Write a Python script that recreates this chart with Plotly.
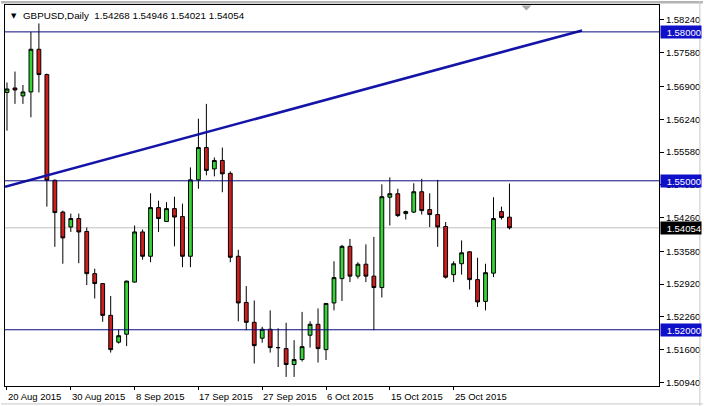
import plotly.graph_objects as go

# ---------------- data ----------------
symbol_title = "GBPUSD,Daily  1.54268 1.54946 1.54021 1.54054"

opens = [1.5678, 1.5687, 1.5671, 1.5679, 1.5765, 1.5714, 1.5501, 1.5437, 1.5407, 1.5424,
         1.5398, 1.5313, 1.5293, 1.5229, 1.5175, 1.5191, 1.5296, 1.5397, 1.5348, 1.5446,
         1.5418, 1.5444, 1.5428, 1.5348, 1.5502, 1.5567, 1.5524, 1.5541, 1.5515, 1.5348,
         1.5255, 1.5215, 1.5183, 1.5201, 1.5164, 1.5162, 1.5130, 1.5140, 1.5189, 1.5211,
         1.5160, 1.5254, 1.5303, 1.5368, 1.5308, 1.5332, 1.5308, 1.5285, 1.5467, 1.5474,
         1.5434, 1.5437, 1.5478, 1.5442, 1.5432, 1.5408, 1.5311, 1.5333, 1.5357, 1.5301,
         1.5257, 1.5314, 1.5438, 1.54268]
highs = [1.5698, 1.5720, 1.5693, 1.5800, 1.5817, 1.5716, 1.5503, 1.5440, 1.5434, 1.5434,
         1.5406, 1.5323, 1.5294, 1.5268, 1.5201, 1.5299, 1.5410, 1.5402, 1.5475, 1.5460,
         1.5457, 1.5468, 1.5454, 1.5527, 1.5625, 1.5655, 1.5547, 1.5567, 1.5519, 1.5361,
         1.5288, 1.5259, 1.5206, 1.5239, 1.5203, 1.5214, 1.5179, 1.5236, 1.5217, 1.5243,
         1.5254, 1.5338, 1.5371, 1.5383, 1.5336, 1.5372, 1.5387, 1.5493, 1.5507, 1.5484,
         1.5440, 1.5495, 1.5504, 1.5475, 1.5502, 1.5417, 1.5338, 1.5380, 1.5358, 1.5345,
         1.5333, 1.5467, 1.5448, 1.54946]
lows = [1.5601, 1.5655, 1.5655, 1.5628, 1.5678, 1.5448, 1.5367, 1.5333, 1.5397, 1.5334,
        1.5290, 1.5263, 1.5216, 1.5154, 1.5172, 1.5167, 1.5295, 1.5341, 1.5336, 1.5397,
        1.5417, 1.5368, 1.5326, 1.5326, 1.5484, 1.5511, 1.5509, 1.5477, 1.5336, 1.5217,
        1.5199, 1.5132, 1.5174, 1.5154, 1.5125, 1.5105, 1.5105, 1.5136, 1.5164, 1.5134,
        1.5139, 1.5239, 1.5258, 1.5296, 1.5303, 1.5296, 1.5199, 1.5265, 1.5410, 1.5427,
        1.5422, 1.5435, 1.5432, 1.5407, 1.5367, 1.5303, 1.5296, 1.5311, 1.5281, 1.5246,
        1.5239, 1.5306, 1.5422, 1.54021]
closes = [1.5685, 1.5683, 1.5679, 1.5765, 1.5714, 1.5501, 1.5436, 1.5385, 1.5424, 1.5397,
          1.5313, 1.5293, 1.5229, 1.5160, 1.5188, 1.5298, 1.5397, 1.5348, 1.5446, 1.5424,
          1.5444, 1.5427, 1.5348, 1.5502, 1.5567, 1.5521, 1.5541, 1.5514, 1.5346, 1.5254,
          1.5215, 1.5168, 1.5201, 1.5164, 1.5164, 1.5130, 1.5140, 1.5166, 1.5211, 1.5162,
          1.5253, 1.5305, 1.5368, 1.5308, 1.5332, 1.5308, 1.5285, 1.5468, 1.5474, 1.5430,
          1.5438, 1.5478, 1.5440, 1.5432, 1.5407, 1.5306, 1.5333, 1.5355, 1.5301, 1.5256,
          1.5315, 1.5424, 1.5426, 1.54054]

date_tick_index = [0, 8, 16, 24, 32, 40, 48, 56]
date_tick_labels = ["20 Aug 2015", "30 Aug 2015", "8 Sep 2015", "17 Sep 2015",
                    "27 Sep 2015", "6 Oct 2015", "15 Oct 2015", "25 Oct 2015"]

price_ticks = [1.58240, 1.57580, 1.56900, 1.56240, 1.55580, 1.54920,
               1.54260, 1.53580, 1.52920, 1.52260, 1.51600, 1.50940]
price_tick_labels = ["1.58240", "1.57580", "1.56900", "1.56240", "1.55580", "1.54920",
                     "1.54260", "1.53580", "1.52920", "1.52260", "1.51600", "1.50940"]

levels = [1.58000, 1.55000, 1.52000]
level_labels = ["1.58000", "1.55000", "1.52000"]

trend_x = [-0.25, 72.1]
trend_y = [1.5488, 1.5803]

bid = closes[-1]
bid_label = "1.54054"

# ---------------- figure ----------------
FONT = "Liberation Sans, Arial, sans-serif"
GREEN = "#36D436"
RED = "#CE1E1E"
NAVY = "#0A0A80"

x_idx = list(range(len(opens)))

fig = go.Figure()
fig.add_trace(go.Candlestick(
    x=x_idx, open=opens, high=highs, low=lows, close=closes,
    increasing=dict(fillcolor=GREEN, line=dict(color="black", width=1)),
    decreasing=dict(fillcolor=RED, line=dict(color="black", width=1)),
    whiskerwidth=0, showlegend=False, hoverinfo="skip",
))
fig.add_trace(go.Scatter(
    x=trend_x, y=trend_y, mode="lines",
    line=dict(color="#1414A8", width=2.6), showlegend=False, hoverinfo="skip",
))

shapes = []
shapes.append(dict(type="line", xref="paper", x0=0, x1=1, yref="y", y0=bid, y1=bid,
                   line=dict(color="#C0C0C0", width=1), layer="below"))
for lv in levels:
    shapes.append(dict(type="line", xref="paper", x0=0, x1=1, yref="y", y0=lv, y1=lv,
                       line=dict(color=NAVY, width=1), layer="above"))

PL, PR, PT, PB = 4, 660, 4, 386
def px(v):
    return (v - PL) / (PR - PL)
def py(v):
    return (PB - v) / (PB - PT)

shapes.append(dict(type="rect", xref="paper", yref="paper", x0=px(0), x1=px(704),
                   y0=py(2.5), y1=py(0), fillcolor="#B4B4B4", line=dict(width=0)))
shapes.append(dict(type="line", xref="paper", yref="paper", x0=px(701), x1=px(701),
                   y0=py(0), y1=py(406), line=dict(color="#C8C8C8", width=1)))
shapes.append(dict(type="line", xref="paper", yref="paper", x0=px(0), x1=px(704),
                   y0=py(404), y1=py(404), line=dict(color="#C8C8C8", width=1)))
shapes.append(dict(type="path", xref="paper", yref="paper",
                   path=f"M {px(522)} {py(4.5)} L {px(532)} {py(4.5)} L {px(527)} {py(9.5)} Z",
                   fillcolor="#A8A8A8", line=dict(width=0)))

annotations = []
for xi, lab in zip(date_tick_index, date_tick_labels):
    annotations.append(dict(x=xi, xref="x", y=0, yref="paper", text=lab, showarrow=False,
                            xanchor="left", yanchor="top", xshift=-1, yshift=-3,
                            font=dict(family=FONT, size=9.5, color="black")))
for lv, lab in zip(levels, level_labels):
    annotations.append(dict(x=1, xref="paper", y=lv, yref="y", text=lab, showarrow=False,
                            xanchor="left", yanchor="middle", xshift=1, width=40, height=12,
                            align="right", bgcolor="#1010C8", borderpad=0,
                            font=dict(family=FONT, size=9.5, color="white")))
annotations.append(dict(x=1, xref="paper", y=bid, yref="y", text=bid_label, showarrow=False,
                        xanchor="left", yanchor="middle", xshift=1, width=40, height=12,
                        align="right", bgcolor="black", borderpad=0,
                        font=dict(family=FONT, size=9.5, color="white")))
annotations.append(dict(x=0, xref="paper", y=1, yref="paper", text=symbol_title,
                        showarrow=False, xanchor="left", yanchor="top", xshift=16, yshift=-3,
                        font=dict(family=FONT, size=9.8, color="black")))
annotations.append(dict(x=0, xref="paper", y=1, yref="paper", text="▼",
                        showarrow=False, xanchor="left", yanchor="top", xshift=4, yshift=-5,
                        font=dict(family="DejaVu Sans", size=7, color="black")))

fig.update_layout(
    width=704, height=406,
    margin=dict(l=PL, r=704 - PR, t=PT, b=406 - PB),
    paper_bgcolor="white", plot_bgcolor="white",
    boxgap=0.32,
    shapes=shapes, annotations=annotations,
    showlegend=False,
    xaxis=dict(range=[-0.25, 81.75], rangeslider=dict(visible=False),
               showgrid=False, zeroline=False, showline=True, mirror=True,
               linecolor="black", linewidth=1,
               tickmode="array", tickvals=date_tick_index, showticklabels=False,
               ticks="outside", ticklen=3, tickcolor="black", fixedrange=True),
    yaxis=dict(range=[1.508670, 1.585414], side="right",
               showgrid=False, zeroline=False, showline=True, mirror=True,
               linecolor="black", linewidth=1,
               tickmode="array", tickvals=price_ticks, ticktext=price_tick_labels,
               ticks="outside", ticklen=4, tickcolor="black",
               tickfont=dict(family=FONT, size=9.5, color="black"), fixedrange=True),
)

fig.write_html("out.html", config={"displayModeBar": False},
               post_script="document.body.style.margin='0';document.body.style.overflow='hidden';")
